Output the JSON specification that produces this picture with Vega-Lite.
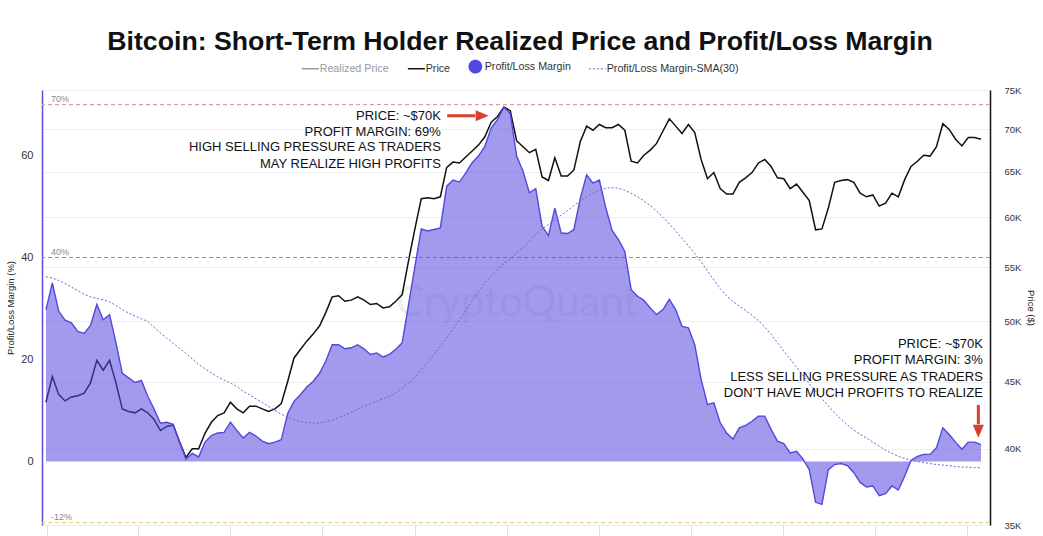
{
  "$schema": "https://vega.github.io/schema/vega-lite/v6.json",
  "width": 948,
  "height": 435,
  "autosize": {"type": "none"},
  "padding": {"left": 42, "top": 90, "right": 53, "bottom": 11},
  "background": "white",
  "title": {"text": "Bitcoin: Short-Term Holder Realized Price and Profit/Loss Margin", "fontSize": 26.7, "fontWeight": "bold", "font": "Liberation Sans", "color": "#111111", "anchor": "middle", "frame": "group", "offset": 5, "dx": 4},
  "config": {
    "font": "Liberation Sans",
    "view": {"stroke": null},
    "axis": {"grid": false, "ticks": false, "labelFont": "Liberation Sans", "titleFont": "Liberation Sans", "titleFontWeight": "normal"}
  },
  "datasets": {
    "main": [
      {"date":"2024-01-01","price":43400,"margin":29.8,"sma":36.2},
      {"date":"2024-01-02","price":45400,"margin":35.0,"sma":36.0},
      {"date":"2024-01-03","price":44000,"margin":29.5,"sma":35.5},
      {"date":"2024-01-04","price":43500,"margin":27.7,"sma":34.9},
      {"date":"2024-01-05","price":43800,"margin":27.2,"sma":34.2},
      {"date":"2024-01-06","price":43900,"margin":25.5,"sma":33.5},
      {"date":"2024-01-07","price":44100,"margin":25.1,"sma":32.8},
      {"date":"2024-01-08","price":44900,"margin":26.7,"sma":32.3},
      {"date":"2024-01-09","price":46700,"margin":30.8,"sma":32.0},
      {"date":"2024-01-10","price":45900,"margin":27.8,"sma":31.7},
      {"date":"2024-01-11","price":46700,"margin":28.8,"sma":31.3},
      {"date":"2024-01-12","price":44900,"margin":23.3,"sma":30.6},
      {"date":"2024-01-13","price":42900,"margin":17.3,"sma":29.8},
      {"date":"2024-01-14","price":42700,"margin":16.4,"sma":29.1},
      {"date":"2024-01-15","price":42600,"margin":15.5,"sma":28.5},
      {"date":"2024-01-16","price":42900,"margin":15.9,"sma":28.0},
      {"date":"2024-01-17","price":42600,"margin":12.8,"sma":27.5},
      {"date":"2024-01-18","price":42100,"margin":10.3,"sma":26.3},
      {"date":"2024-01-19","price":41300,"margin":7.5,"sma":25.2},
      {"date":"2024-01-20","price":41600,"margin":7.7,"sma":24.2},
      {"date":"2024-01-21","price":41700,"margin":7.3,"sma":23.2},
      {"date":"2024-01-22","price":40500,"margin":3.8,"sma":22.2},
      {"date":"2024-01-23","price":39400,"margin":0.5,"sma":21.2},
      {"date":"2024-01-24","price":40000,"margin":1.6,"sma":20.1},
      {"date":"2024-01-25","price":40000,"margin":0.9,"sma":19.0},
      {"date":"2024-01-26","price":41100,"margin":3.8,"sma":18.2},
      {"date":"2024-01-27","price":41900,"margin":5.1,"sma":17.4},
      {"date":"2024-01-28","price":42400,"margin":5.6,"sma":16.6},
      {"date":"2024-01-29","price":42600,"margin":5.7,"sma":16.0},
      {"date":"2024-01-30","price":43400,"margin":7.7,"sma":15.4},
      {"date":"2024-01-31","price":42900,"margin":6.1,"sma":14.7},
      {"date":"2024-02-01","price":42600,"margin":4.6,"sma":13.8},
      {"date":"2024-02-02","price":43100,"margin":5.7,"sma":13.1},
      {"date":"2024-02-03","price":43100,"margin":5.0,"sma":12.3},
      {"date":"2024-02-04","price":42900,"margin":4.0,"sma":11.6},
      {"date":"2024-02-05","price":42700,"margin":3.5,"sma":10.8},
      {"date":"2024-02-06","price":42900,"margin":3.8,"sma":10.0},
      {"date":"2024-02-07","price":43300,"margin":4.3,"sma":9.3},
      {"date":"2024-02-08","price":45000,"margin":9.4,"sma":8.7},
      {"date":"2024-02-09","price":46900,"margin":11.8,"sma":8.2},
      {"date":"2024-02-10","price":47600,"margin":13.1,"sma":7.8},
      {"date":"2024-02-11","price":48300,"margin":14.6,"sma":7.6},
      {"date":"2024-02-12","price":48900,"margin":15.7,"sma":7.5},
      {"date":"2024-02-13","price":49600,"margin":17.3,"sma":7.6},
      {"date":"2024-02-14","price":50800,"margin":19.7,"sma":7.8},
      {"date":"2024-02-15","price":52200,"margin":22.9,"sma":8.1},
      {"date":"2024-02-16","price":52300,"margin":22.9,"sma":8.6},
      {"date":"2024-02-17","price":51800,"margin":22.1,"sma":9.1},
      {"date":"2024-02-18","price":51900,"margin":22.3,"sma":9.7},
      {"date":"2024-02-19","price":52200,"margin":22.9,"sma":10.3},
      {"date":"2024-02-20","price":51900,"margin":22.1,"sma":10.8},
      {"date":"2024-02-21","price":51500,"margin":21.0,"sma":11.3},
      {"date":"2024-02-22","price":51600,"margin":21.3,"sma":11.8},
      {"date":"2024-02-23","price":51200,"margin":20.5,"sma":12.3},
      {"date":"2024-02-24","price":51300,"margin":21.0,"sma":12.8},
      {"date":"2024-02-25","price":51800,"margin":22.0,"sma":13.5},
      {"date":"2024-02-26","price":52400,"margin":23.3,"sma":14.4},
      {"date":"2024-02-27","price":55600,"margin":30.7,"sma":15.4},
      {"date":"2024-02-28","price":58800,"margin":38.2,"sma":16.5},
      {"date":"2024-02-29","price":62000,"margin":45.6,"sma":18.0},
      {"date":"2024-03-01","price":62100,"margin":45.2,"sma":19.4},
      {"date":"2024-03-02","price":62000,"margin":45.5,"sma":21.0},
      {"date":"2024-03-03","price":62200,"margin":45.8,"sma":22.6},
      {"date":"2024-03-04","price":65500,"margin":54.0,"sma":24.2},
      {"date":"2024-03-05","price":66100,"margin":55.2,"sma":26.0},
      {"date":"2024-03-06","price":66000,"margin":54.8,"sma":27.8},
      {"date":"2024-03-07","price":66700,"margin":56.6,"sma":29.6},
      {"date":"2024-03-08","price":67400,"margin":58.6,"sma":31.5},
      {"date":"2024-03-09","price":68100,"margin":59.9,"sma":33.3},
      {"date":"2024-03-10","price":69100,"margin":61.8,"sma":35.0},
      {"date":"2024-03-11","price":70900,"margin":65.4,"sma":36.4},
      {"date":"2024-03-12","price":71600,"margin":67.1,"sma":37.7},
      {"date":"2024-03-13","price":72800,"margin":69.5,"sma":38.8},
      {"date":"2024-03-14","price":72300,"margin":68.2,"sma":39.8},
      {"date":"2024-03-15","price":68600,"margin":59.9,"sma":40.9},
      {"date":"2024-03-16","price":67900,"margin":56.9,"sma":42.0},
      {"date":"2024-03-17","price":67200,"margin":52.7,"sma":43.2},
      {"date":"2024-03-18","price":67600,"margin":53.5,"sma":44.5},
      {"date":"2024-03-19","price":64400,"margin":46.1,"sma":45.6},
      {"date":"2024-03-20","price":64000,"margin":44.3,"sma":46.5},
      {"date":"2024-03-21","price":66600,"margin":49.7,"sma":47.4},
      {"date":"2024-03-22","price":64500,"margin":44.8,"sma":48.3},
      {"date":"2024-03-23","price":64500,"margin":44.7,"sma":49.2},
      {"date":"2024-03-24","price":65200,"margin":45.5,"sma":50.2},
      {"date":"2024-03-25","price":68500,"margin":51.6,"sma":51.1},
      {"date":"2024-03-26","price":70400,"margin":56.2,"sma":51.9},
      {"date":"2024-03-27","price":69900,"margin":54.6,"sma":52.6},
      {"date":"2024-03-28","price":70600,"margin":55.2,"sma":53.2},
      {"date":"2024-03-29","price":70200,"margin":49.8,"sma":53.6},
      {"date":"2024-03-30","price":70200,"margin":45.3,"sma":53.7},
      {"date":"2024-03-31","price":70600,"margin":43.5,"sma":53.6},
      {"date":"2024-04-01","price":69900,"margin":41.2,"sma":53.2},
      {"date":"2024-04-02","price":66200,"margin":33.7,"sma":52.6},
      {"date":"2024-04-03","price":66000,"margin":32.4,"sma":51.9},
      {"date":"2024-04-04","price":66900,"margin":31.6,"sma":51.1},
      {"date":"2024-04-05","price":67500,"margin":30.1,"sma":50.2},
      {"date":"2024-04-06","price":68300,"margin":28.8,"sma":49.1},
      {"date":"2024-04-07","price":69800,"margin":29.8,"sma":47.9},
      {"date":"2024-04-08","price":71300,"margin":31.8,"sma":46.6},
      {"date":"2024-04-09","price":70400,"margin":29.8,"sma":45.2},
      {"date":"2024-04-10","price":69500,"margin":26.5,"sma":43.8},
      {"date":"2024-04-11","price":70600,"margin":26.2,"sma":42.3},
      {"date":"2024-04-12","price":69600,"margin":22.9,"sma":40.8},
      {"date":"2024-04-13","price":66400,"margin":16.1,"sma":39.1},
      {"date":"2024-04-14","price":64200,"margin":11.2,"sma":37.4},
      {"date":"2024-04-15","price":64900,"margin":11.5,"sma":35.6},
      {"date":"2024-04-16","price":63100,"margin":7.6,"sma":33.9},
      {"date":"2024-04-17","price":62500,"margin":5.6,"sma":32.5},
      {"date":"2024-04-18","price":62500,"margin":4.4,"sma":31.4},
      {"date":"2024-04-19","price":63800,"margin":6.6,"sma":30.5},
      {"date":"2024-04-20","price":64300,"margin":7.1,"sma":29.6},
      {"date":"2024-04-21","price":64900,"margin":7.9,"sma":28.7},
      {"date":"2024-04-22","price":66000,"margin":8.9,"sma":27.6},
      {"date":"2024-04-23","price":66400,"margin":8.9,"sma":26.4},
      {"date":"2024-04-24","price":65600,"margin":6.3,"sma":24.9},
      {"date":"2024-04-25","price":64300,"margin":4.0,"sma":23.3},
      {"date":"2024-04-26","price":64200,"margin":3.5,"sma":21.7},
      {"date":"2024-04-27","price":63100,"margin":1.7,"sma":20.1},
      {"date":"2024-04-28","price":63600,"margin":2.0,"sma":18.5},
      {"date":"2024-04-29","price":62700,"margin":0.5,"sma":16.9},
      {"date":"2024-04-30","price":61800,"margin":-1.6,"sma":15.3},
      {"date":"2024-05-01","price":58700,"margin":-8.0,"sma":13.8},
      {"date":"2024-05-02","price":58800,"margin":-8.4,"sma":12.3},
      {"date":"2024-05-03","price":61000,"margin":-1.6,"sma":10.9},
      {"date":"2024-05-04","price":63800,"margin":-0.6,"sma":9.5},
      {"date":"2024-05-05","price":64000,"margin":-0.4,"sma":8.3},
      {"date":"2024-05-06","price":64100,"margin":-0.8,"sma":7.2},
      {"date":"2024-05-07","price":63800,"margin":-2.2,"sma":6.2},
      {"date":"2024-05-08","price":62600,"margin":-4.1,"sma":5.3},
      {"date":"2024-05-09","price":62200,"margin":-5.0,"sma":4.6},
      {"date":"2024-05-10","price":62400,"margin":-4.8,"sma":3.8},
      {"date":"2024-05-11","price":61200,"margin":-6.7,"sma":3.0},
      {"date":"2024-05-12","price":61500,"margin":-6.3,"sma":2.2},
      {"date":"2024-05-13","price":62600,"margin":-4.8,"sma":1.6},
      {"date":"2024-05-14","price":62200,"margin":-5.6,"sma":1.0},
      {"date":"2024-05-15","price":64100,"margin":-2.9,"sma":0.6},
      {"date":"2024-05-16","price":65600,"margin":0.2,"sma":0.3},
      {"date":"2024-05-17","price":66200,"margin":1.0,"sma":0.0},
      {"date":"2024-05-18","price":66900,"margin":1.4,"sma":-0.2},
      {"date":"2024-05-19","price":66800,"margin":1.4,"sma":-0.4},
      {"date":"2024-05-20","price":67900,"margin":2.7,"sma":-0.6},
      {"date":"2024-05-21","price":70700,"margin":6.6,"sma":-0.7},
      {"date":"2024-05-22","price":70000,"margin":5.3,"sma":-0.8},
      {"date":"2024-05-23","price":68800,"margin":3.8,"sma":-1.0},
      {"date":"2024-05-24","price":68000,"margin":2.4,"sma":-1.1},
      {"date":"2024-05-25","price":69000,"margin":3.8,"sma":-1.1},
      {"date":"2024-05-26","price":69000,"margin":3.8,"sma":-1.2},
      {"date":"2024-05-27","price":68800,"margin":3.3,"sma":-1.2}
    ],
    "refs": [
      {"v": 70, "k": "70%"},
      {"v": 40, "k": "40%"},
      {"v": -12, "k": "-12%"}
    ],
    "mark": [
      {"date": "2024-03-15T02:00:00Z", "v": 31.1, "text": "CryptoQuant"}
    ],
    "notes": [
      {"date": "2024-03-03T02:00:00Z", "v": 67.8, "text": "PRICE: ~$70K"},
      {"date": "2024-03-03T02:00:00Z", "v": 64.7, "text": "PROFIT MARGIN: 69%"},
      {"date": "2024-03-03T02:00:00Z", "v": 61.6, "text": "HIGH SELLING PRESSURE AS TRADERS"},
      {"date": "2024-03-03T02:00:00Z", "v": 58.4, "text": "MAY REALIZE HIGH PROFITS"},
      {"date": "2024-05-27T07:00:00Z", "v": 23.0, "text": "PRICE: ~$70K"},
      {"date": "2024-05-27T07:00:00Z", "v": 19.9, "text": "PROFIT MARGIN: 3%"},
      {"date": "2024-05-27T07:00:00Z", "v": 16.6, "text": "LESS SELLING PRESSURE AS TRADERS"},
      {"date": "2024-05-27T07:00:00Z", "v": 13.5, "text": "DON’T HAVE MUCH PROFITS TO REALIZE"}
    ],
    "shafts": [
      {"date": "2024-03-04T02:00:00Z", "date2": "2024-03-08T12:00:00Z", "v": 67.8, "v2": 67.8},
      {"date": "2024-05-26T14:00:00Z", "date2": "2024-05-26T14:00:00Z", "v": 11.1, "v2": 7.3}
    ],
    "heads": [
      {"date": "2024-03-09T14:00:00Z", "v": 67.8, "dir": "right"},
      {"date": "2024-05-26T14:00:00Z", "v": 5.95, "dir": "down"}
    ]
  },
  "layer": [
    {
      "data": {"name": "main"},
      "mark": {"type": "line", "strokeWidth": 1.5},
      "encoding": {
        "x": {
          "field": "date", "type": "temporal", "title": null,
          "scale": {"type": "utc", "domain": [{"year": 2023, "month": 12, "date": 31, "hours": 9, "utc": true}, {"year": 2024, "month": 5, "date": 28, "hours": 10, "utc": true}]},
          "axis": {
            "labels": false, "domain": false, "ticks": true, "tickColor": "#dddddd", "tickSize": 10, "grid": false, "title": null,
            "values": [
              {"year": 2024, "month": 1, "date": 1, "hours": 2, "utc": true},
              {"year": 2024, "month": 1, "date": 15, "hours": 12, "utc": true},
              {"year": 2024, "month": 1, "date": 30, "hours": 0, "utc": true},
              {"year": 2024, "month": 2, "date": 13, "hours": 10, "utc": true},
              {"year": 2024, "month": 2, "date": 28, "hours": 0, "utc": true},
              {"year": 2024, "month": 3, "date": 13, "hours": 12, "utc": true},
              {"year": 2024, "month": 3, "date": 27, "hours": 22, "utc": true},
              {"year": 2024, "month": 4, "date": 11, "hours": 10, "utc": true},
              {"year": 2024, "month": 4, "date": 25, "hours": 22, "utc": true},
              {"year": 2024, "month": 5, "date": 10, "hours": 7, "utc": true},
              {"year": 2024, "month": 5, "date": 24, "hours": 19, "utc": true}
            ]
          }
        },
        "y": {
          "field": "price", "type": "quantitative", "title": "Price ($)",
          "scale": {"type": "log", "domain": [35000, 75000], "nice": false, "zero": false},
          "axis": {
            "orient": "right",
            "values": [35000, 40000, 45000, 50000, 55000, 60000, 65000, 70000, 75000],
            "labelExpr": "(datum.value / 1000) + 'K'",
            "labelFontSize": 9.5, "labelColor": "#333333", "labelPadding": 14,
            "domainColor": "#111111", "domainWidth": 1.5, "ticks": false,
            "grid": true, "gridColor": "#eeeeee", "gridWidth": 1,
            "titleFontSize": 9.5, "titleColor": "#222222", "titlePadding": 5
          }
        },
        "color": {
          "datum": "Price", "type": "nominal",
          "scale": {"domain": ["Realized Price", "Price", "Profit/Loss Margin", "Profit/Loss Margin-SMA(30)"], "range": ["#9a9a9a", "#111111", "#5447df", "#6b63d3"]},
          "legend": {
            "orient": "none", "legendX": 263, "legendY": -29, "direction": "horizontal",
            "title": null, "labelFontSize": 10.7, "labelColor": "#333333", "labelFont": "Liberation Sans",
            "symbolSize": 289, "symbolStrokeWidth": 1.5, "columnPadding": 15, "labelOffset": 4,
            "encode": {
              "symbols": {
                "update": {
                  "shape": {"signal": "datum.value === 'Profit/Loss Margin' ? 'circle' : 'stroke'"},
                  "size": {"signal": "datum.value === 'Profit/Loss Margin' ? 150 : 289"},
                  "strokeDash": {"signal": "datum.value === 'Profit/Loss Margin-SMA(30)' ? [2, 2] : [1, 0]"},
                  "strokeWidth": {"signal": "datum.value === 'Profit/Loss Margin-SMA(30)' ? 1 : 1.5"},
                  "fill": {"signal": "datum.value === 'Profit/Loss Margin' ? '#5447df' : 'transparent'"},
                  "stroke": {"signal": "datum.value === 'Realized Price' ? '#8a8a8a' : datum.value === 'Price' ? '#111111' : datum.value === 'Profit/Loss Margin' ? '#5447df' : '#6b63d3'"}
                }
              },
              "labels": {
                "update": {
                  "fill": {"signal": "datum.value === 'Realized Price' ? '#999999' : '#333333'"}
                }
              }
            }
          }
        }
      }
    },
    {
      "layer": [
        {
          "data": {"name": "mark"},
          "mark": {"type": "text", "font": "Lato", "fontSize": 42, "align": "center", "baseline": "middle", "fill": "#000000", "opacity": 0.06},
          "encoding": {
            "x": {"field": "date", "type": "temporal", "title": null},
            "y": {
              "field": "v", "type": "quantitative", "title": "Profit/Loss Margin (%)",
              "scale": {"domain": [-12.45, 72.85], "nice": false, "zero": false},
              "axis": {
                "orient": "left", "values": [0, 20, 40, 60],
                "labelFontSize": 11, "labelColor": "#333333", "labelPadding": 9,
                "domainColor": "#5b4fe0", "domainWidth": 1.5, "ticks": false, "grid": false,
                "titleFontSize": 9.5, "titleColor": "#222222", "titlePadding": 5
              }
            },
            "text": {"field": "text"}
          }
        },
        {
          "data": {"name": "refs"},
          "mark": {"type": "rule", "strokeDash": [4, 3], "strokeWidth": 1.2},
          "encoding": {
            "y": {"field": "v", "type": "quantitative", "title": "Profit/Loss Margin (%)"},
            "stroke": {"field": "k", "type": "nominal", "scale": {"domain": ["70%", "40%", "-12%"], "range": ["#e69a9a", "#9189d0", "#e9d58a"]}, "legend": null}
          }
        },
        {
          "data": {"name": "refs"},
          "mark": {"type": "text", "align": "left", "baseline": "bottom", "dx": 5, "dy": -1, "fontSize": 9, "fill": "#888888"},
          "encoding": {
            "x": {"datum": {"year": 2024, "month": 1, "date": 1, "hours": 0, "utc": true}, "type": "temporal"},
            "y": {"field": "v", "type": "quantitative", "title": "Profit/Loss Margin (%)"},
            "text": {"field": "k"}
          }
        },
        {
          "data": {"name": "main"},
          "mark": {"type": "area", "opacity": 0.55},
          "encoding": {
            "x": {"field": "date", "type": "temporal", "title": null},
            "y": {"field": "margin", "type": "quantitative", "title": "Profit/Loss Margin (%)"},
            "y2": {"datum": 0},
            "color": {"datum": "Profit/Loss Margin", "type": "nominal"}
          }
        },
        {
          "data": {"name": "main"},
          "mark": {"type": "line", "strokeWidth": 1.4},
          "encoding": {
            "x": {"field": "date", "type": "temporal", "title": null},
            "y": {"field": "margin", "type": "quantitative", "title": "Profit/Loss Margin (%)"},
            "color": {"datum": "Profit/Loss Margin", "type": "nominal"}
          }
        },
        {
          "data": {"name": "main"},
          "mark": {"type": "line", "strokeWidth": 1, "strokeDash": [2, 2]},
          "encoding": {
            "x": {"field": "date", "type": "temporal", "title": null},
            "y": {"field": "sma", "type": "quantitative", "title": "Profit/Loss Margin (%)"},
            "color": {"datum": "Profit/Loss Margin-SMA(30)", "type": "nominal"}
          }
        },
        {
          "data": {"name": "notes"},
          "mark": {"type": "text", "align": "right", "baseline": "middle", "fontSize": 13, "font": "Liberation Sans", "fill": "#111111"},
          "encoding": {
            "x": {"field": "date", "type": "temporal", "title": null},
            "y": {"field": "v", "type": "quantitative", "title": "Profit/Loss Margin (%)"},
            "text": {"field": "text"}
          }
        },
        {
          "data": {"name": "shafts"},
          "mark": {"type": "rule", "strokeWidth": 3, "color": "#d8402f"},
          "encoding": {
            "x": {"field": "date", "type": "temporal", "title": null},
            "x2": {"field": "date2"},
            "y": {"field": "v", "type": "quantitative", "title": "Profit/Loss Margin (%)"},
            "y2": {"field": "v2"}
          }
        },
        {
          "data": {"name": "heads"},
          "mark": {"type": "point", "filled": true, "fill": "#d8402f", "stroke": null, "opacity": 1, "size": 170},
          "encoding": {
            "x": {"field": "date", "type": "temporal", "title": null},
            "y": {"field": "v", "type": "quantitative", "title": "Profit/Loss Margin (%)"},
            "shape": {"field": "dir", "type": "nominal", "scale": {"domain": ["right", "down"], "range": ["M-1,-0.85L1,0L-1,0.85Z", "M-0.85,-1L0.85,-1L0,1Z"]}, "legend": null}
          }
        }
      ]
    }
  ],
  "resolve": {"scale": {"y": "independent"}}
}
